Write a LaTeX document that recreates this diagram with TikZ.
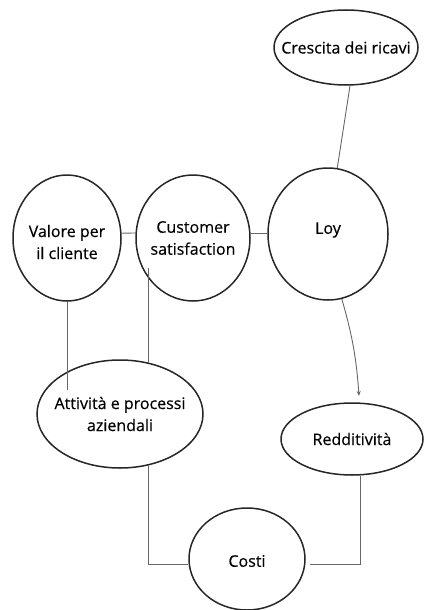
\documentclass[tikz,border=0pt]{standalone}
\usepackage{fontspec}
\setmainfont{Open Sans}
\newfontfamily\labfont{Open Sans}[FakeBold=0.4]
\usetikzlibrary{shapes.geometric,arrows.meta}
\begin{document}
\begin{tikzpicture}[x=1pt,y=-1pt,
  bubble/.style={ellipse,draw=black!85,line width=1.5pt,inner sep=0pt},
  txt/.style={align=center,inner sep=0pt,font=\labfont\fontsize{16}{22}\selectfont},
  link/.style={draw=black!60,line width=0.9pt}]
\useasboundingbox (0,0) rectangle (423,610);
\node[bubble,minimum width=144pt,minimum height=75pt,label={[txt]center:Crescita dei ricavi}] (cres) at (346,47.5) {};
\node[bubble,minimum width=120pt,minimum height=132pt,label={[txt,yshift=4pt]center:Loy}] (loy) at (328,234) {};
\node[bubble,minimum width=114pt,minimum height=126pt,label={[txt]center:Customer\\satisfaction}] (cust) at (193,238) {};
\node[bubble,minimum width=108pt,minimum height=126pt,label={[txt,yshift=-4pt]center:Valore per\\il cliente}] (val) at (67,238) {};
\node[bubble,minimum width=166pt,minimum height=108pt,label={[txt]center:Attività e processi\\aziendali}] (att) at (120,414) {};
\node[bubble,minimum width=142pt,minimum height=72pt,label={[txt]center:Redditività}] (red) at (352,439) {};
\node[bubble,minimum width=116pt,minimum height=102pt,label={[txt,yshift=-2pt]center:Costi}] (cos) at (247,559) {};
\draw[link] (val.5) -- (cust.175);
\draw[link] (cust.5) -- (cust.5 -| loy.west);
\draw[link] (cres.-84) -- (loy.82);
\coordinate (valend) at (67,390);
\draw[link] (val.south) -- (valend);
\coordinate (custend) at (149,268);
\draw[link] (att.61) -- (att.61 |- custend);
\coordinate (redtip) at (359,396);
\draw[link,-{Stealth[length=5pt,width=4pt]}] (loy.282) to[bend left=6] (redtip);
\draw[link] (att.-61) |- ([yshift=-5pt]cos.west);
\draw[link] (red.-77) |- ([yshift=-5pt,xshift=4pt]cos.east);
\end{tikzpicture}
\end{document}
